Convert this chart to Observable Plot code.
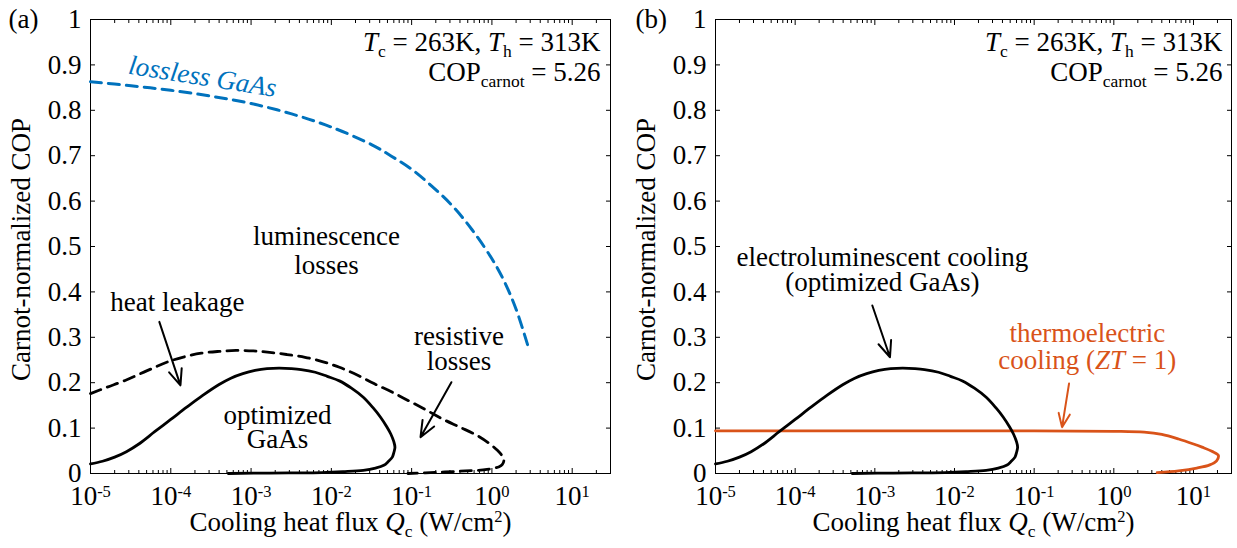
<!DOCTYPE html>
<html><head><meta charset="utf-8">
<script src="https://cdn.jsdelivr.net/npm/d3@7"></script>
<script src="https://cdn.jsdelivr.net/npm/@observablehq/plot@0.6"></script>
<style>
body{margin:0;background:#fff;}
#wrap{position:relative;width:1237px;height:548px;overflow:hidden;font-family:"Liberation Serif","Times New Roman",serif;}
#wrap svg{position:absolute;top:0;max-width:none;}
</style></head><body><div id="wrap"></div>
<script>
// ---------- data ----------
// optimized GaAs (electroluminescent cooling): Q (W/cm2), normalized COP
const gaasQ = [1.0e-5,1.41e-5,2.0e-5,2.8e-5,4.0e-5,6.3e-5,1.0e-4,1.58e-4,2.5e-4,4.0e-4,5.6e-4,7.9e-4,1.12e-3,1.58e-3,2.24e-3,3.16e-3,4.2e-3,6.3e-3,8.9e-3,1.26e-2,1.78e-2,2.5e-2,3.3e-2,4.1e-2,4.9e-2,5.5e-2,6.0e-2,6.2e-2,6.0e-2,5.75e-2,5.1e-2,4.5e-2,3.55e-2,2.5e-2,1.4e-2,7.6e-3,1.7e-3,5.2e-4];
const gaasCOP = [0.021,0.027,0.036,0.048,0.065,0.092,0.119,0.146,0.172,0.196,0.210,0.220,0.227,0.231,0.232,0.231,0.229,0.223,0.214,0.204,0.188,0.168,0.145,0.124,0.103,0.087,0.070,0.058,0.046,0.036,0.026,0.018,0.012,0.007,0.004,0.002,0.001,0.0];
// no heat leakage bound (black dashed)
const leakQ = [1.0e-5,1.6e-5,2.7e-5,5.0e-5,8.9e-5,1.4e-4,2.4e-4,4.0e-4,6.5e-4,1.07e-3,1.7e-3,2.8e-3,4.7e-3,7.9e-3,1.26e-2,2.1e-2,3.4e-2,5.6e-2,9.0e-2,0.148,0.243,0.40,0.65,0.93,1.17,1.35,1.41,1.35,1.23,0.87,0.40,0.148,0.09];
const leakCOP = [0.176,0.190,0.205,0.226,0.245,0.256,0.265,0.269,0.271,0.270,0.267,0.262,0.256,0.246,0.234,0.217,0.198,0.180,0.161,0.141,0.120,0.102,0.084,0.066,0.051,0.038,0.029,0.020,0.015,0.009,0.005,0.0015,0.0];
// lossless GaAs (blue dashed)
const losslessQ = [1.0e-5,3.2e-5,1.0e-4,3.2e-4,1.0e-3,3.2e-3,1.0e-2,3.2e-2,0.056,0.10,0.178,0.32,0.56,1.0,1.41,2.0,2.9];
const losslessCOP = [0.863,0.854,0.844,0.831,0.815,0.792,0.763,0.724,0.699,0.670,0.633,0.590,0.538,0.473,0.425,0.362,0.273];
// thermoelectric cooling ZT = 1 (orange)
const teQ = [1.0e-5,1.0e-3,0.1,1.0,2.4,4.0,6.5,10,12.8,17,20.5,19.5,16,11,6.5,3.5];
const teCOP = [0.094,0.094,0.094,0.093,0.091,0.086,0.076,0.065,0.058,0.049,0.040,0.028,0.019,0.012,0.006,0.002];

// ---------- ticks ----------
const xMajor = [1e-5,1e-4,1e-3,1e-2,1e-1,1,10];
const xTickLabels = ["10^{-5}","10^{-4}","10^{-3}","10^{-2}","10^{-1}","10^{0}","10^{1}"];
const xMinor = [];
for (let e = -5; e <= 1; e++) for (let m = 2; m <= 9; m++) { const v = m * Math.pow(10, e); if (v < 30) xMinor.push(v); }
const yTicks = [0,0.1,0.2,0.3,0.4,0.5,0.6,0.7,0.8,0.9,1];
const yTickLabels = ["0","0.1","0.2","0.3","0.4","0.5","0.6","0.7","0.8","0.9","1"];

// ---------- text ----------
const xLabel = "Cooling heat flux *Q*_{c} (W/cm^{2})";
const yLabel = "Carnot-normalized COP";
const condLines = ["*T*_{c} = 263K, *T*_{h} = 313K", "COP_{carnot} = 5.26"];
const notesA = [
  {text: "luminescence", x: 8.7e-3, y: 0.504},
  {text: "losses", x: 8.7e-3, y: 0.4405},
  {text: "heat leakage", x: 1.21e-4, y: 0.358},
  {text: "optimized", x: 2.13e-3, y: 0.110},
  {text: "GaAs", x: 2.13e-3, y: 0.0555},
  {text: "resistive", x: 0.388, y: 0.284},
  {text: "losses", x: 0.388, y: 0.227}
];
const blueNote = [{text: "lossless GaAs", x: 2.48e-4, y: 0.874}];
const notesB = [
  {text: "electroluminescent cooling", x: 1.245e-3, y: 0.456},
  {text: "(optimized GaAs)", x: 1.245e-3, y: 0.401}
];
const orangeNotes = [
  {text: "thermoelectric", x: 0.465, y: 0.289},
  {text: "cooling (*ZT* = 1)", x: 0.465, y: 0.2306}
];
const arrowsA = [
  {x1: 7.2e-5, y1: 0.334, x2: 1.32e-4, y2: 0.194},
  {x1: 0.313, y1: 0.201, x2: 0.129, y2: 0.080}
];
const arrowsB = [{x1: 9.3e-4, y1: 0.370, x2: 1.55e-3, y2: 0.256}];
const arrowsBorange = [{x1: 0.274, y1: 0.198, x2: 0.224, y2: 0.102}];

// ---------- styling ----------
const BLUE = "#0072BD", ORANGE = "#D95319";
const FONT = '"Liberation Serif", "Times New Roman", serif';
const FS = 27;
const T = {fontFamily: FONT, fontSize: FS};

function axes() {
  const none = () => "";
  return [
    Plot.frame({stroke: "#000", strokeWidth: 1}),
    Plot.axisX(xMajor, {anchor: "bottom", tickSize: 0, tickPadding: 12.8, ...T, label: null,
      tickFormat: d => xTickLabels[xMajor.indexOf(d)]}),
    Plot.axisX(xMajor, {anchor: "bottom", tickSize: -5, tickFormat: none, label: null}),
    Plot.axisX(xMinor, {anchor: "bottom", tickSize: -3, tickFormat: none, label: null}),
    Plot.axisX(xMajor, {anchor: "top", tickSize: -5, tickFormat: none, label: null}),
    Plot.axisX(xMinor, {anchor: "top", tickSize: -3, tickFormat: none, label: null}),
    Plot.axisY(yTicks, {anchor: "left", tickSize: 0, tickPadding: 9, ...T, label: null,
      tickFormat: d => yTickLabels[yTicks.indexOf(d)]}),
    Plot.axisY(yTicks, {anchor: "left", tickSize: -5, tickFormat: none, label: null}),
    Plot.axisY(yTicks, {anchor: "right", tickSize: -5, tickFormat: none, label: null}),
    Plot.text([xLabel], {text: d => d, frameAnchor: "bottom", textAnchor: "middle", dy: 57, lineAnchor: "bottom", ...T}),
    Plot.text([yLabel], {text: d => d, frameAnchor: "left", textAnchor: "middle", rotate: -90, dx: -61, dy: 3, lineAnchor: "bottom", ...T})
  ];
}
function cond(dx) {
  return [
    Plot.text([condLines[0]], {text: d => d, frameAnchor: "top-right", textAnchor: "end", lineAnchor: "bottom", dx, dy: 31, ...T}),
    Plot.text([condLines[1]], {text: d => d, frameAnchor: "top-right", textAnchor: "end", lineAnchor: "bottom", dx, dy: 61, ...T})
  ];
}
function curve(xs, ys, o) {
  return Plot.line({length: xs.length}, {x: xs, y: ys, curve: "catmull-rom", strokeLinejoin: "round", ...o});
}
function base(width, ml, mr, marks) {
  return Plot.plot({
    width, height: 548, marginLeft: ml, marginRight: mr, marginTop: 19, marginBottom: 75,
    style: {fontFamily: FONT, fontSize: FS + "px", background: "transparent", overflow: "visible", color: "#000"},
    x: {type: "log", domain: [1e-5, 30]},
    y: {domain: [0, 1]},
    marks
  });
}
const arrowStyle = {x1: "x1", y1: "y1", x2: "x2", y2: "y2", strokeWidth: 2, headLength: 13, headAngle: 45};

const pa = base(618, 90, 8, [
  ...axes(),
  curve(losslessQ, losslessCOP, {stroke: BLUE, strokeWidth: 3, strokeDasharray: "11,7"}),
  curve(leakQ, leakCOP, {stroke: "#000", strokeWidth: 2.8, strokeDasharray: "11,7"}),
  curve(gaasQ, gaasCOP, {stroke: "#000", strokeWidth: 2.8}),
  Plot.text(notesA, {x: "x", y: "y", text: "text", textAnchor: "middle", lineAnchor: "bottom", ...T}),
  Plot.text(blueNote, {x: "x", y: "y", text: "text", textAnchor: "middle", ...T, fontStyle: "italic", fill: BLUE, rotate: 9}),
  Plot.arrow(arrowsA, {...arrowStyle, stroke: "#000"}),
  ...cond(-10),
  Plot.text(["(a)"], {text: d => d, frameAnchor: "top-left", textAnchor: "start", lineAnchor: "bottom", dx: -82, dy: 8, ...T})
]);
const pb = base(619, 97, 6, [
  ...axes(),
  curve(teQ, teCOP, {stroke: ORANGE, strokeWidth: 2.8}),
  curve(gaasQ, gaasCOP, {stroke: "#000", strokeWidth: 2.8}),
  Plot.text(notesB, {x: "x", y: "y", text: "text", textAnchor: "middle", lineAnchor: "bottom", ...T}),
  Plot.text(orangeNotes, {x: "x", y: "y", text: "text", textAnchor: "middle", lineAnchor: "bottom", ...T, fill: ORANGE}),
  Plot.arrow(arrowsB, {...arrowStyle, stroke: "#000"}),
  Plot.arrow(arrowsBorange, {...arrowStyle, stroke: ORANGE}),
  ...cond(-9),
  Plot.text(["(b)"], {text: d => d, frameAnchor: "top-left", textAnchor: "start", lineAnchor: "bottom", dx: -80, dy: 8, ...T})
]);

const wrap = document.getElementById("wrap");
pa.style.left = "0px"; pb.style.left = "618px";
wrap.appendChild(pa); wrap.appendChild(pb);

// rich text: *italic*, _{sub}, ^{sup}
const SVGNS = "http://www.w3.org/2000/svg";
const SUB_SIZE = 17.5, SUB_SHIFT = 6, SUP_SIZE = 16.5, SUP_SHIFT = 8.5;
function rich(svg) {
  const re = /\*([^*]+)\*|_\{([^}]*)\}|\^\{([^}]*)\}|([^*_^]+)/g;
  svg.querySelectorAll("text").forEach(t => {
    const els = t.querySelector("tspan") ? [...t.querySelectorAll("tspan")] : [t];
    els.forEach(el => {
      const s = el.textContent;
      if (!/\*|_\{|\^\{/.test(s)) return;
      el.textContent = "";
      let cur = 0, m;
      re.lastIndex = 0;
      while ((m = re.exec(s))) {
        const ts = document.createElementNS(SVGNS, "tspan");
        let shift = 0;
        if (m[1] != null) { ts.textContent = m[1]; ts.setAttribute("font-style", "italic"); }
        else if (m[2] != null) { ts.textContent = m[2]; ts.setAttribute("font-size", SUB_SIZE); shift = SUB_SHIFT; }
        else if (m[3] != null) { ts.textContent = m[3]; ts.setAttribute("font-size", SUP_SIZE); shift = -SUP_SHIFT; }
        else ts.textContent = m[4];
        if (shift !== cur) { ts.setAttribute("dy", shift - cur); cur = shift; }
        el.appendChild(ts);
      }
    });
  });
}
rich(pa); rich(pb);
</script></body></html>
